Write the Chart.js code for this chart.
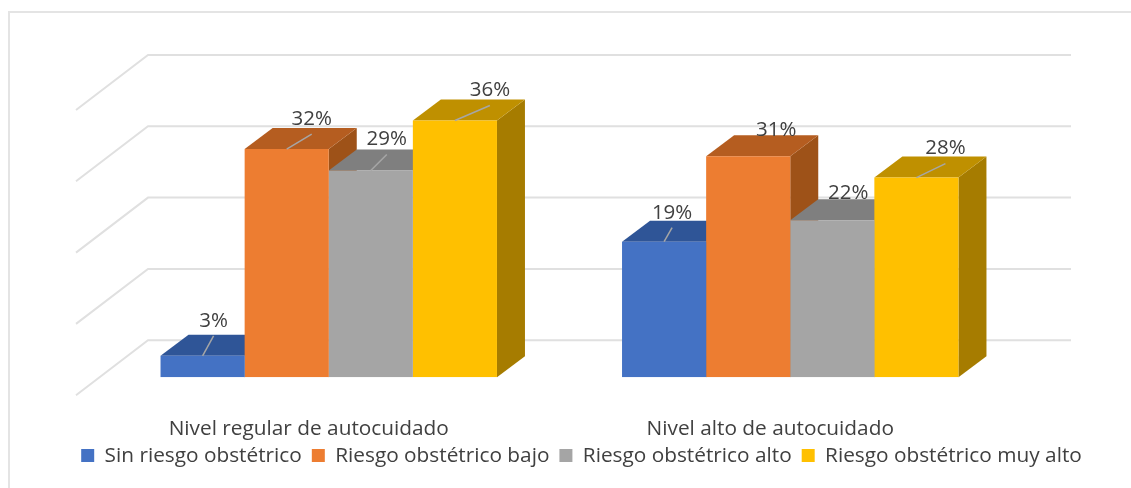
<!doctype html>
<html>

<head>
  <title>Autocuidado y riesgo obstétrico</title>
  <script src="https://cdn.jsdelivr.net/npm/chart.js@4"></script>
  <style>
    html, body {
      margin: 0;
      background: #fff;
    }
    .frame {
      position: absolute;
      left: 8px;
      top: 11px;
      right: 0;
      bottom: 0;
      border-left: 2px solid #e4e4e4;
      border-top: 2px solid #e4e4e4;
    }
    canvas {
      position: absolute;
      left: 0;
      top: 0;
    }
  </style>
</head>

<body>
  <div class="frame"></div>
  <canvas id="myChart" width="1131" height="488"></canvas>

  <script>
    var categories = ['Nivel regular de autocuidado', 'Nivel alto de autocuidado'];
    var sinRiesgo = [3, 19];
    var riesgoBajo = [32, 31];
    var riesgoAlto = [29, 22];
    var riesgoMuyAlto = [36, 28];

    // hand placed label offsets from the top of each bar, one pair per category
    var labelOffsets = [
      [[11, -35], [8, -29]],
      [[25, -30], [28, -26]],
      [[16, -31], [16, -27]],
      [[35, -30], [29, -29]]
    ];
    // two labels of the second group have no leader line in the original
    var leaders = [
      [true, true],
      [true, false],
      [true, false],
      [true, true]
    ];

    var fontName = '"Open Sans", sans-serif';
    var textColor = '#404040';
    var gridColor = '#e0e0e0';
    var topColors = ['#2f5597', '#b55d20', '#7f7f7f', '#bf9000'];
    var sideColors = ['#2a4d88', '#9e5218', '#737373', '#a67c00'];
    var depth = { x: 28, y: -21 };
    var wallBack = { x: 50, y: -37 };
    var wallFront = { x: -22, y: 18 };

    function poly(ctx, color, pts) {
      ctx.fillStyle = color;
      ctx.beginPath();
      pts.forEach(function(p, i) {
        if (i === 0) {
          ctx.moveTo(p[0], p[1]);
        } else {
          ctx.lineTo(p[0], p[1]);
        }
      });
      ctx.closePath();
      ctx.fill();
    }

    var fake3d = {
      id: 'fake3d',
      afterLayout: function(chart) {
        // legend sits right of the centre in the original
        chart.legend.left += 16;
        chart.legend.right += 16;
        chart.legend.top -= 6;
        chart.legend.bottom -= 6;
      },
      beforeDatasetsDraw: function(chart) {
        var ctx = chart.ctx;
        var y = chart.scales.y;
        var area = chart.chartArea;
        // floor and wall lines come from the value axis ticks
        ctx.save();
        ctx.strokeStyle = gridColor;
        ctx.lineWidth = 2;
        y.ticks.forEach(function(tick) {
          var py = y.getPixelForValue(tick.value);
          ctx.beginPath();
          ctx.moveTo(area.left + wallFront.x, py + wallFront.y);
          ctx.lineTo(area.left + wallBack.x, py + wallBack.y);
          ctx.lineTo(area.right + wallBack.x, py + wallBack.y);
          ctx.stroke();
        });
        ctx.restore();

        // top and side faces, left to right, the library draws the fronts over them
        chart.data.datasets.forEach(function(dataset, s) {
          chart.getDatasetMeta(s).data.forEach(function(bar) {
            var l = bar.x - bar.width / 2;
            var r = bar.x + bar.width / 2;
            var dx = depth.x;
            var dy = depth.y;
            poly(ctx, sideColors[s], [[r, bar.y], [r + dx, bar.y + dy], [r + dx, bar.base + dy], [r, bar.base]]);
            poly(ctx, topColors[s], [[l, bar.y], [l + dx, bar.y + dy], [r + dx, bar.y + dy], [r, bar.y]]);
          });
        });
      },
      afterDatasetsDraw: function(chart) {
        var ctx = chart.ctx;
        ctx.save();
        ctx.font = '20.5px ' + fontName;
        ctx.textAlign = 'center';
        ctx.textBaseline = 'middle';
        chart.data.datasets.forEach(function(dataset, s) {
          chart.getDatasetMeta(s).data.forEach(function(bar, c) {
            var off = labelOffsets[s][c];
            if (leaders[s][c]) {
              ctx.strokeStyle = '#a6a6a6';
              ctx.lineWidth = 1.5;
              ctx.beginPath();
              ctx.moveTo(bar.x, bar.y);
              ctx.lineTo(bar.x + off[0], bar.y + off[1] + 15);
              ctx.stroke();
            }
            ctx.fillStyle = textColor;
            ctx.fillText(dataset.data[c] + '%', bar.x + off[0], bar.y + off[1]);
          });
        });
        ctx.restore();
      }
    };

    function series(label, data, color) {
      return {
        label: label,
        data: data,
        backgroundColor: color,
        borderWidth: 0
      };
    }

    var config = {
      type: 'bar',
      data: {
        labels: categories,
        datasets: [
          series('Sin riesgo obstétrico', sinRiesgo, '#4472c4'),
          series('Riesgo obstétrico bajo', riesgoBajo, '#ed7d31'),
          series('Riesgo obstétrico alto', riesgoAlto, '#a5a5a5'),
          series('Riesgo obstétrico muy alto', riesgoMuyAlto, '#ffc000')
        ]
      },
      plugins: [fake3d],
      options: {
        responsive: false,
        animation: false,
        layout: {
          padding: { top: 92, bottom: 6 }
        },
        datasets: {
          bar: {
            categoryPercentage: 0.729,
            barPercentage: 1
          }
        },
        scales: {
          x: {
            grid: { display: false, drawTicks: false },
            border: { display: false },
            ticks: {
              color: textColor,
              font: { family: fontName, size: 20.8 },
              maxRotation: 0,
              padding: 39,
              labelOffset: -20
            },
            afterFit: function(scale) {
              scale.height = 64;
            }
          },
          y: {
            min: 0,
            max: 40,
            grid: { display: false },
            border: { display: false },
            ticks: { display: false, stepSize: 10 },
            afterFit: function(scale) {
              scale.width = 98;
            }
          },
          // only reserves the room on the right of the plot
          y2: {
            position: 'right',
            grid: { display: false },
            border: { display: false },
            ticks: { display: false },
            afterFit: function(scale) {
              scale.width = 110;
            }
          }
        },
        plugins: {
          tooltip: { enabled: false },
          legend: {
            position: 'bottom',
            labels: {
              color: textColor,
              font: { family: fontName, size: 20.8 },
              boxWidth: 13,
              boxHeight: 13,
              padding: 10
            }
          }
        }
      }
    };

    window.myChart = new Chart(document.getElementById('myChart').getContext('2d'), config);
  </script>
</body>

</html>
